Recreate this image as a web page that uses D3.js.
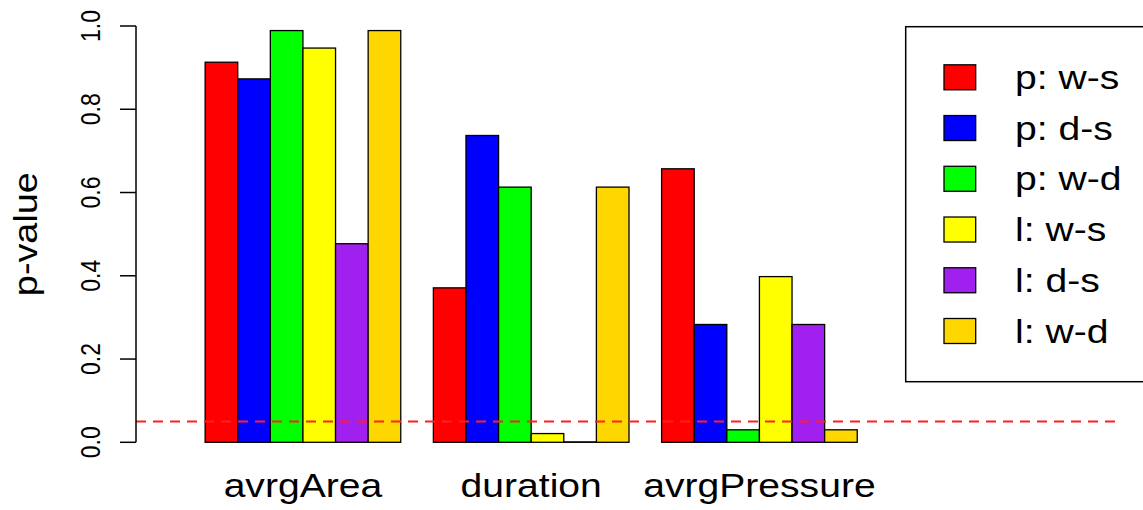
<!DOCTYPE html>
<html>
<head>
<meta charset="utf-8">
<script src="https://cdn.jsdelivr.net/npm/d3@7"></script>
<style>
  body { margin: 0; background: #fff; }
  text { font-family: "Liberation Sans", Arial, Helvetica, sans-serif; fill: #000; }
</style>
</head>
<body>
<div id="chart"></div>
<script>
// data
const categories = ["avrgArea", "duration", "avrgPressure"];
const seriesNames = ["p: w-s", "p: d-s", "p: w-d", "l: w-s", "l: d-s", "l: w-d"];
const seriesColors = ["#ff0000", "#0000ff", "#00ff00", "#ffff00", "#a020f0", "#ffd700"];
const pWS = [0.913, 0.371, 0.657];
const pDS = [0.873, 0.737, 0.283];
const pWD = [0.989, 0.613, 0.030];
const lWS = [0.947, 0.021, 0.398];
const lDS = [0.477, 0.001, 0.283];
const lWD = [0.989, 0.613, 0.030];
const yTicks = [0, 0.2, 0.4, 0.6, 0.8, 1.0];
const cutoff = 0.05;

const seriesValues = [pWS, pDS, pWD, lWS, lDS, lWD];

const width = 1143, height = 510;
const svg = d3.select("#chart").append("svg")
    .attr("width", width)
    .attr("height", height);

// R barplot style: bar units, groups of 6 with 1 unit gap, xlim c(0,28)
const x = d3.scaleLinear().domain([-1.12, 29.12]).range([136, 1122]);
const y = d3.scaleLinear().domain([0, 1]).range([442.3, 26]);
const sx = 1.15; // text in the picture is a bit wider than tall

let bars = [];
categories.forEach(function (c, g) {
    seriesValues.forEach(function (vals, s) {
        bars.push({cat: g, ser: s, value: vals[g], left: 1 + g * 7 + s});
    });
});

svg.append("g").selectAll("rect").data(bars).enter()
    .append("rect")
    .attr("x", d => x(d.left))
    .attr("y", d => y(d.value))
    .attr("width", d => x(d.left + 1) - x(d.left))
    .attr("height", d => y(0) - y(d.value))
    .attr("fill", d => seriesColors[d.ser])
    .attr("stroke", "#000")
    .attr("stroke-width", 1.3);

// cutoff line
svg.append("line")
    .attr("x1", x.range()[0]).attr("x2", x.range()[1])
    .attr("y1", y(cutoff)).attr("y2", y(cutoff))
    .attr("stroke", "#ff2020")
    .attr("stroke-width", 2)
    .attr("stroke-dasharray", "10,7");

// y axis
const yAxis = svg.append("g");
yAxis.append("line")
    .attr("x1", 136).attr("x2", 136)
    .attr("y1", y(1)).attr("y2", y(0))
    .attr("stroke", "#000").attr("stroke-width", 1.5);
yAxis.selectAll("line.tick").data(yTicks).enter()
    .append("line").attr("class", "tick")
    .attr("x1", 120).attr("x2", 136)
    .attr("y1", d => y(d)).attr("y2", d => y(d))
    .attr("stroke", "#000").attr("stroke-width", 1.5);
yAxis.selectAll("text").data(yTicks).enter()
    .append("text")
    .attr("transform", d => "translate(100," + y(d) + ") scale(1.2,1) rotate(-90)")
    .attr("text-anchor", "middle")
    .attr("font-size", 23)
    .text(d => d3.format(".1f")(d));

svg.append("text")
    .attr("transform", "translate(36.5," + ((y(0) + y(1)) / 2) + ") scale(1,1.146) rotate(-90)")
    .attr("text-anchor", "middle")
    .attr("font-size", 33)
    .text("p-value");

// category labels
svg.append("g").selectAll("text").data(categories).enter()
    .append("text")
    .attr("transform", (d, i) => "translate(" + x(1 + i * 7 + 3) + ",497) scale(" + sx + ",1)")
    .attr("text-anchor", "middle")
    .attr("font-size", 34)
    .text(d => d);

// legend
const legend = svg.append("g");
legend.append("rect")
    .attr("x", 905.7).attr("y", 26.7)
    .attr("width", 260).attr("height", 355)
    .attr("fill", "none").attr("stroke", "#000").attr("stroke-width", 1.5);
const rowY = d3.scaleLinear().domain([0, 5]).range([77.3, 331]);
legend.selectAll("rect.key").data(seriesNames).enter()
    .append("rect").attr("class", "key")
    .attr("x", 944).attr("y", (d, i) => rowY(i) - 12.5)
    .attr("width", 31.7).attr("height", 25)
    .attr("fill", (d, i) => seriesColors[i])
    .attr("stroke", "#000").attr("stroke-width", 1.3);
legend.selectAll("text").data(seriesNames).enter()
    .append("text")
    .attr("transform", (d, i) => "translate(1015," + (rowY(i) + 11.5) + ") scale(" + sx + ",1)")
    .attr("font-size", 34)
    .text(d => d);
</script>
</body>
</html>
